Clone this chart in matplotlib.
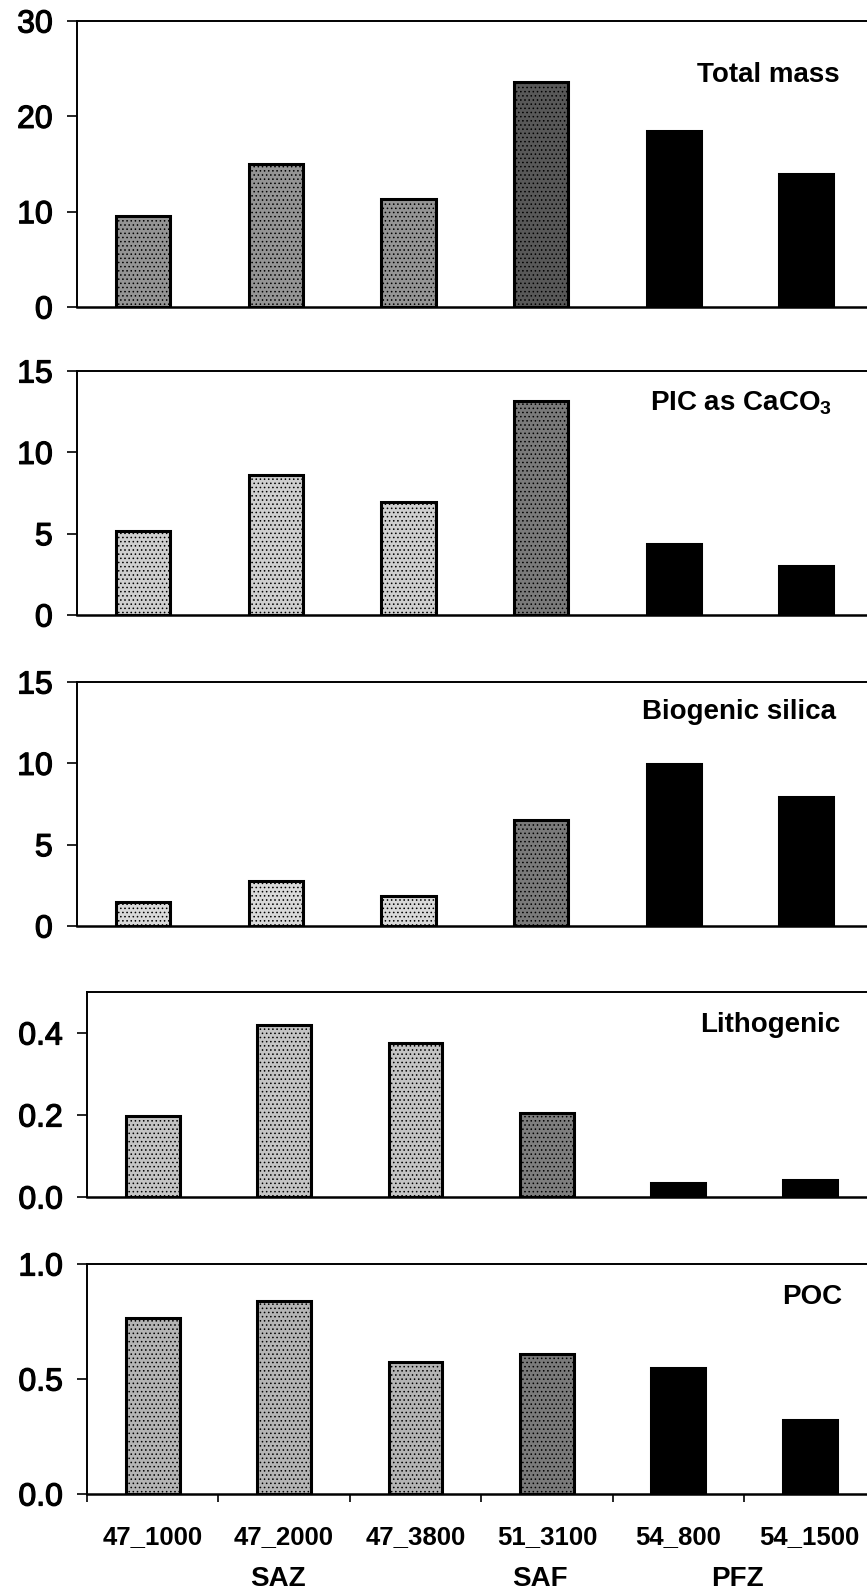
import matplotlib
matplotlib.use("Agg")
import matplotlib.pyplot as plt
import matplotlib.transforms as mtransforms
import matplotlib.patheffects as pe
import numpy as np

# Sediment trap stations and the frontal zone each one sits in
stations = ["47_1000", "47_2000", "47_3800", "51_3100", "54_800", "54_1500"]
station_zone = ["SAZ", "SAZ", "SAZ", "SAF", "PFZ", "PFZ"]
zones = ["SAZ", "SAF", "PFZ"]

# Annual fluxes per component
total_mass = [9.55, 15.0, 11.3, 23.6, 18.5, 13.95]
pic_caco3 = [5.15, 8.6, 6.95, 13.15, 4.35, 3.0]
biogenic_silica = [1.48, 2.77, 1.84, 6.52, 9.96, 7.93]
lithogenic = [0.198, 0.42, 0.376, 0.205, 0.034, 0.041]
poc = [0.765, 0.84, 0.574, 0.61, 0.548, 0.32]

panel_titles = ["Total mass", r"PIC as CaCO$_\mathbf{3}$", "Biogenic silica",
                "Lithogenic", "POC"]
panel_values = [total_mass, pic_caco3, biogenic_silica, lithogenic, poc]
panel_ylims = [(0, 30), (0, 15), (0, 15), (0, 0.5), (0, 1.0)]
panel_yticks = [[0, 10, 20, 30], [0, 5, 10, 15], [0, 5, 10, 15],
                [0.0, 0.2, 0.4], [0.0, 0.5, 1.0]]
panel_yfmt = ["{:.0f}", "{:.0f}", "{:.0f}", "{:.1f}", "{:.1f}"]

plt.rcParams["font.family"] = ["Liberation Sans", "DejaVu Sans"]
plt.rcParams["mathtext.fontset"] = "custom"
plt.rcParams["mathtext.rm"] = "Liberation Sans:bold"
plt.rcParams["mathtext.bf"] = "Liberation Sans:bold"
plt.rcParams["hatch.linewidth"] = 0.6

W, H = 867, 1592
fig = plt.figure(figsize=(W / 100, H / 100), dpi=100)
fig.patch.set_facecolor("white")

# pixel boxes (left, top, bottom) of each panel
boxes = [(77, 21, 307), (77, 371, 615), (77, 682, 926), (87, 992, 1197), (87, 1264, 1494)]
slot_px = [132.6, 132.6, 132.6, 131.4, 131.4]
title_x = [840, 832, 836, 840, 842]
title_y = [75, 403, 712, 1025, 1297]
# shade of the stippled SAZ bars differs a bit from panel to panel
saz_shade = ["#949494", "#cfcfcf", "#d9d9d9", "#c4c4c4", "#b4b4b4"]
saf_shade = ["#585858", "#7a7a7a", "#7a7a7a", "#7e7e7e", "#7a7a7a"]

heavy = [pe.withStroke(linewidth=0.9, foreground="black")]

x = np.arange(len(stations))
axes = []
for i, (left, top, bottom) in enumerate(boxes):
    ax = fig.add_axes([left / W, 1 - bottom / H, (W - left) / W, (bottom - top) / H])
    axes.append(ax)
    colors = []
    hatches = []
    for z in station_zone:
        if z == "SAZ":
            colors.append(saz_shade[i]); hatches.append("....")
        elif z == "SAF":
            colors.append(saf_shade[i]); hatches.append("....")
        else:
            colors.append("black"); hatches.append(None)
    bars = ax.bar(x, panel_values[i], width=0.41, color=colors,
                  edgecolor="black", linewidth=2.2, zorder=3)
    for b, h in zip(bars, hatches):
        if h:
            b.set_hatch(h)

    ax.set_xlim(-0.5, -0.5 + (W - left) / slot_px[i])
    ax.set_ylim(*panel_ylims[i])
    ax.set_yticks(panel_yticks[i])
    ax.set_yticklabels([panel_yfmt[i].format(v) for v in panel_yticks[i]])
    for lbl in ax.get_yticklabels():
        lbl.set_path_effects(heavy)
    ax.spines["right"].set_visible(False)
    for s in ["left", "top", "bottom"]:
        ax.spines[s].set_linewidth(1.4)
    ax.spines["bottom"].set_linewidth(1.8)
    ax.tick_params(axis="y", direction="out", length=7.5, width=1.2,
                   labelsize=23, pad=10)
    ax.set_facecolor("none")

    fig.text(title_x[i] / W, 1 - title_y[i] / H, panel_titles[i], ha="right",
             va="center", fontsize=20, fontweight="bold")

    if i < len(boxes) - 1:
        ax.set_xticks([])
    else:
        ax.set_xticks(x)
        ax.set_xticklabels(stations, fontsize=18.5, fontweight="bold")
        ax.set_xticks(np.arange(-0.5, len(stations) - 0.5, 1.0), minor=True)
        ax.tick_params(axis="x", which="major", length=0, pad=22)
        ax.tick_params(axis="x", which="minor", direction="out", length=6, width=1.2)
        trans = mtransforms.blended_transform_factory(ax.transData, fig.transFigure)
        for z in zones:
            zx = np.mean([k for k, s in enumerate(station_zone) if s == z])
            ax.text(zx - 0.05, 1 - 1579 / H, z, transform=trans, ha="center",
                    va="center", fontsize=20, fontweight="bold")

fig.savefig("out.png", dpi=100, facecolor="white")
